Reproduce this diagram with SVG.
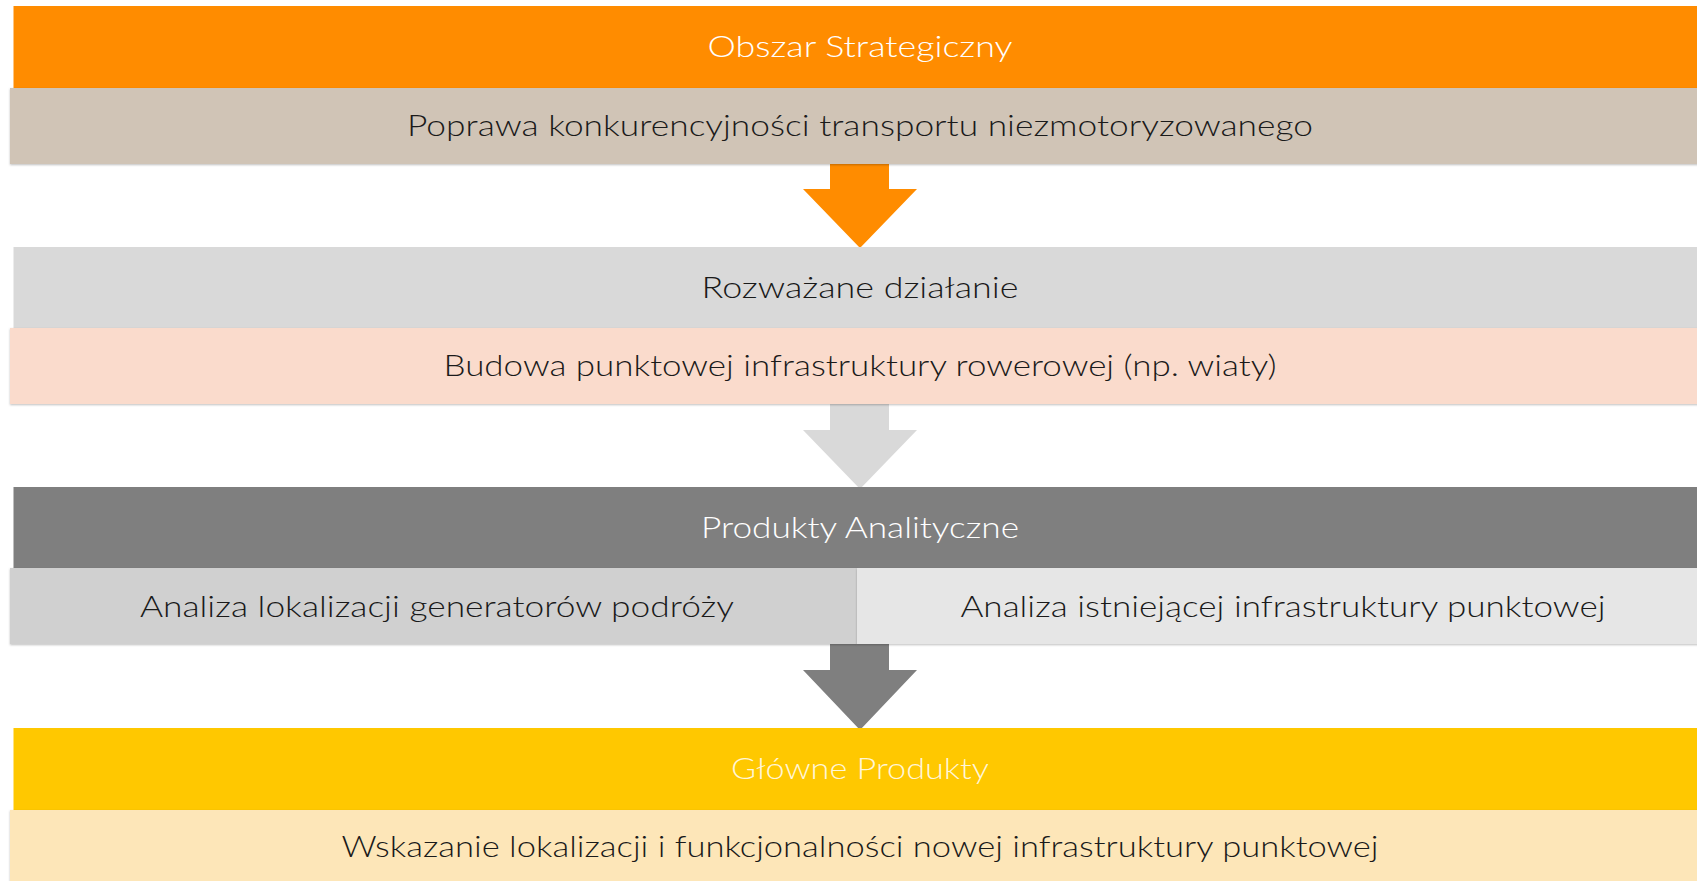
<svg xmlns="http://www.w3.org/2000/svg" width="1697" height="881" viewBox="0 0 1697 881">
<style>
text{font-family:"Lato","Liberation Sans",sans-serif;font-weight:300;font-size:30px;text-anchor:middle}
.dk{fill:#1a1a1a}
.wt{fill:#ffffff}
</style>
<defs>
<filter id="sh" x="-2%" y="-20%" width="104%" height="140%">
<feDropShadow dx="0" dy="1" stdDeviation="1.2" flood-color="#000" flood-opacity="0.25"/>
</filter>
</defs>
<rect width="1697" height="881" fill="#ffffff"/>
<g id="connectors">
<polygon points="830,164 889,164 889,189 917,189 860,248 803,189 830,189" fill="#ff8c00"/>
<polygon points="830,404 889,404 889,430 917,430 860,489 803,430 830,430" fill="#d9d9d9"/>
<polygon points="830,644 889,644 889,670 917,670 860,730 803,670 830,670" fill="#7f7f7f"/>
</g>
<g id="obszar">
<rect x="13.5" y="6" width="1684" height="82" fill="#ff8c00"/>
<text class="wt" x="860" y="57" textLength="305" lengthAdjust="spacingAndGlyphs">Obszar Strategiczny</text>
</g>
<g id="poprawa">
<rect x="10" y="88" width="1690" height="76" fill="#d0c4b6" filter="url(#sh)"/>
<text class="dk" x="860" y="136" textLength="906" lengthAdjust="spacingAndGlyphs">Poprawa konkurencyjności transportu niezmotoryzowanego</text>
</g>
<g id="rozwazane">
<rect x="13.5" y="247" width="1684" height="81" fill="#d9d9d9"/>
<text class="dk" x="860" y="298" textLength="317" lengthAdjust="spacingAndGlyphs">Rozważane działanie</text>
</g>
<g id="budowa">
<rect x="10" y="328" width="1690" height="76" fill="#fadbcc" filter="url(#sh)"/>
<text class="dk" x="860" y="376" textLength="833" lengthAdjust="spacingAndGlyphs">Budowa punktowej infrastruktury rowerowej (np. wiaty)</text>
</g>
<g id="produkty">
<rect x="13.5" y="487" width="1684" height="81" fill="#7f7f7f"/>
<text class="wt" x="860" y="538" textLength="318" lengthAdjust="spacingAndGlyphs">Produkty Analityczne</text>
</g>
<g id="analiza-lok">
<rect x="10" y="568" width="847" height="76" fill="#d0d0d0" filter="url(#sh)"/>
<text class="dk" x="437" y="617" textLength="594" lengthAdjust="spacingAndGlyphs">Analiza lokalizacji generatorów podróży</text>
</g>
<g id="analiza-ist">
<rect x="857" y="568" width="843" height="76" fill="#e6e6e6" filter="url(#sh)"/>
<text class="dk" x="1283" y="617" textLength="645" lengthAdjust="spacingAndGlyphs">Analiza istniejącej infrastruktury punktowej</text>
</g>
<g id="glowne">
<rect x="13.5" y="728" width="1684" height="82" fill="#ffc800"/>
<text class="wt" x="860" y="779" textLength="258" lengthAdjust="spacingAndGlyphs" fill-opacity="0.85">Główne Produkty</text>
</g>
<g id="wskazanie">
<rect x="10" y="810" width="1690" height="76" fill="#fde6b8" filter="url(#sh)"/>
<text class="dk" x="860" y="857" textLength="1037" lengthAdjust="spacingAndGlyphs">Wskazanie lokalizacji i funkcjonalności nowej infrastruktury punktowej</text>
</g>
</svg>
